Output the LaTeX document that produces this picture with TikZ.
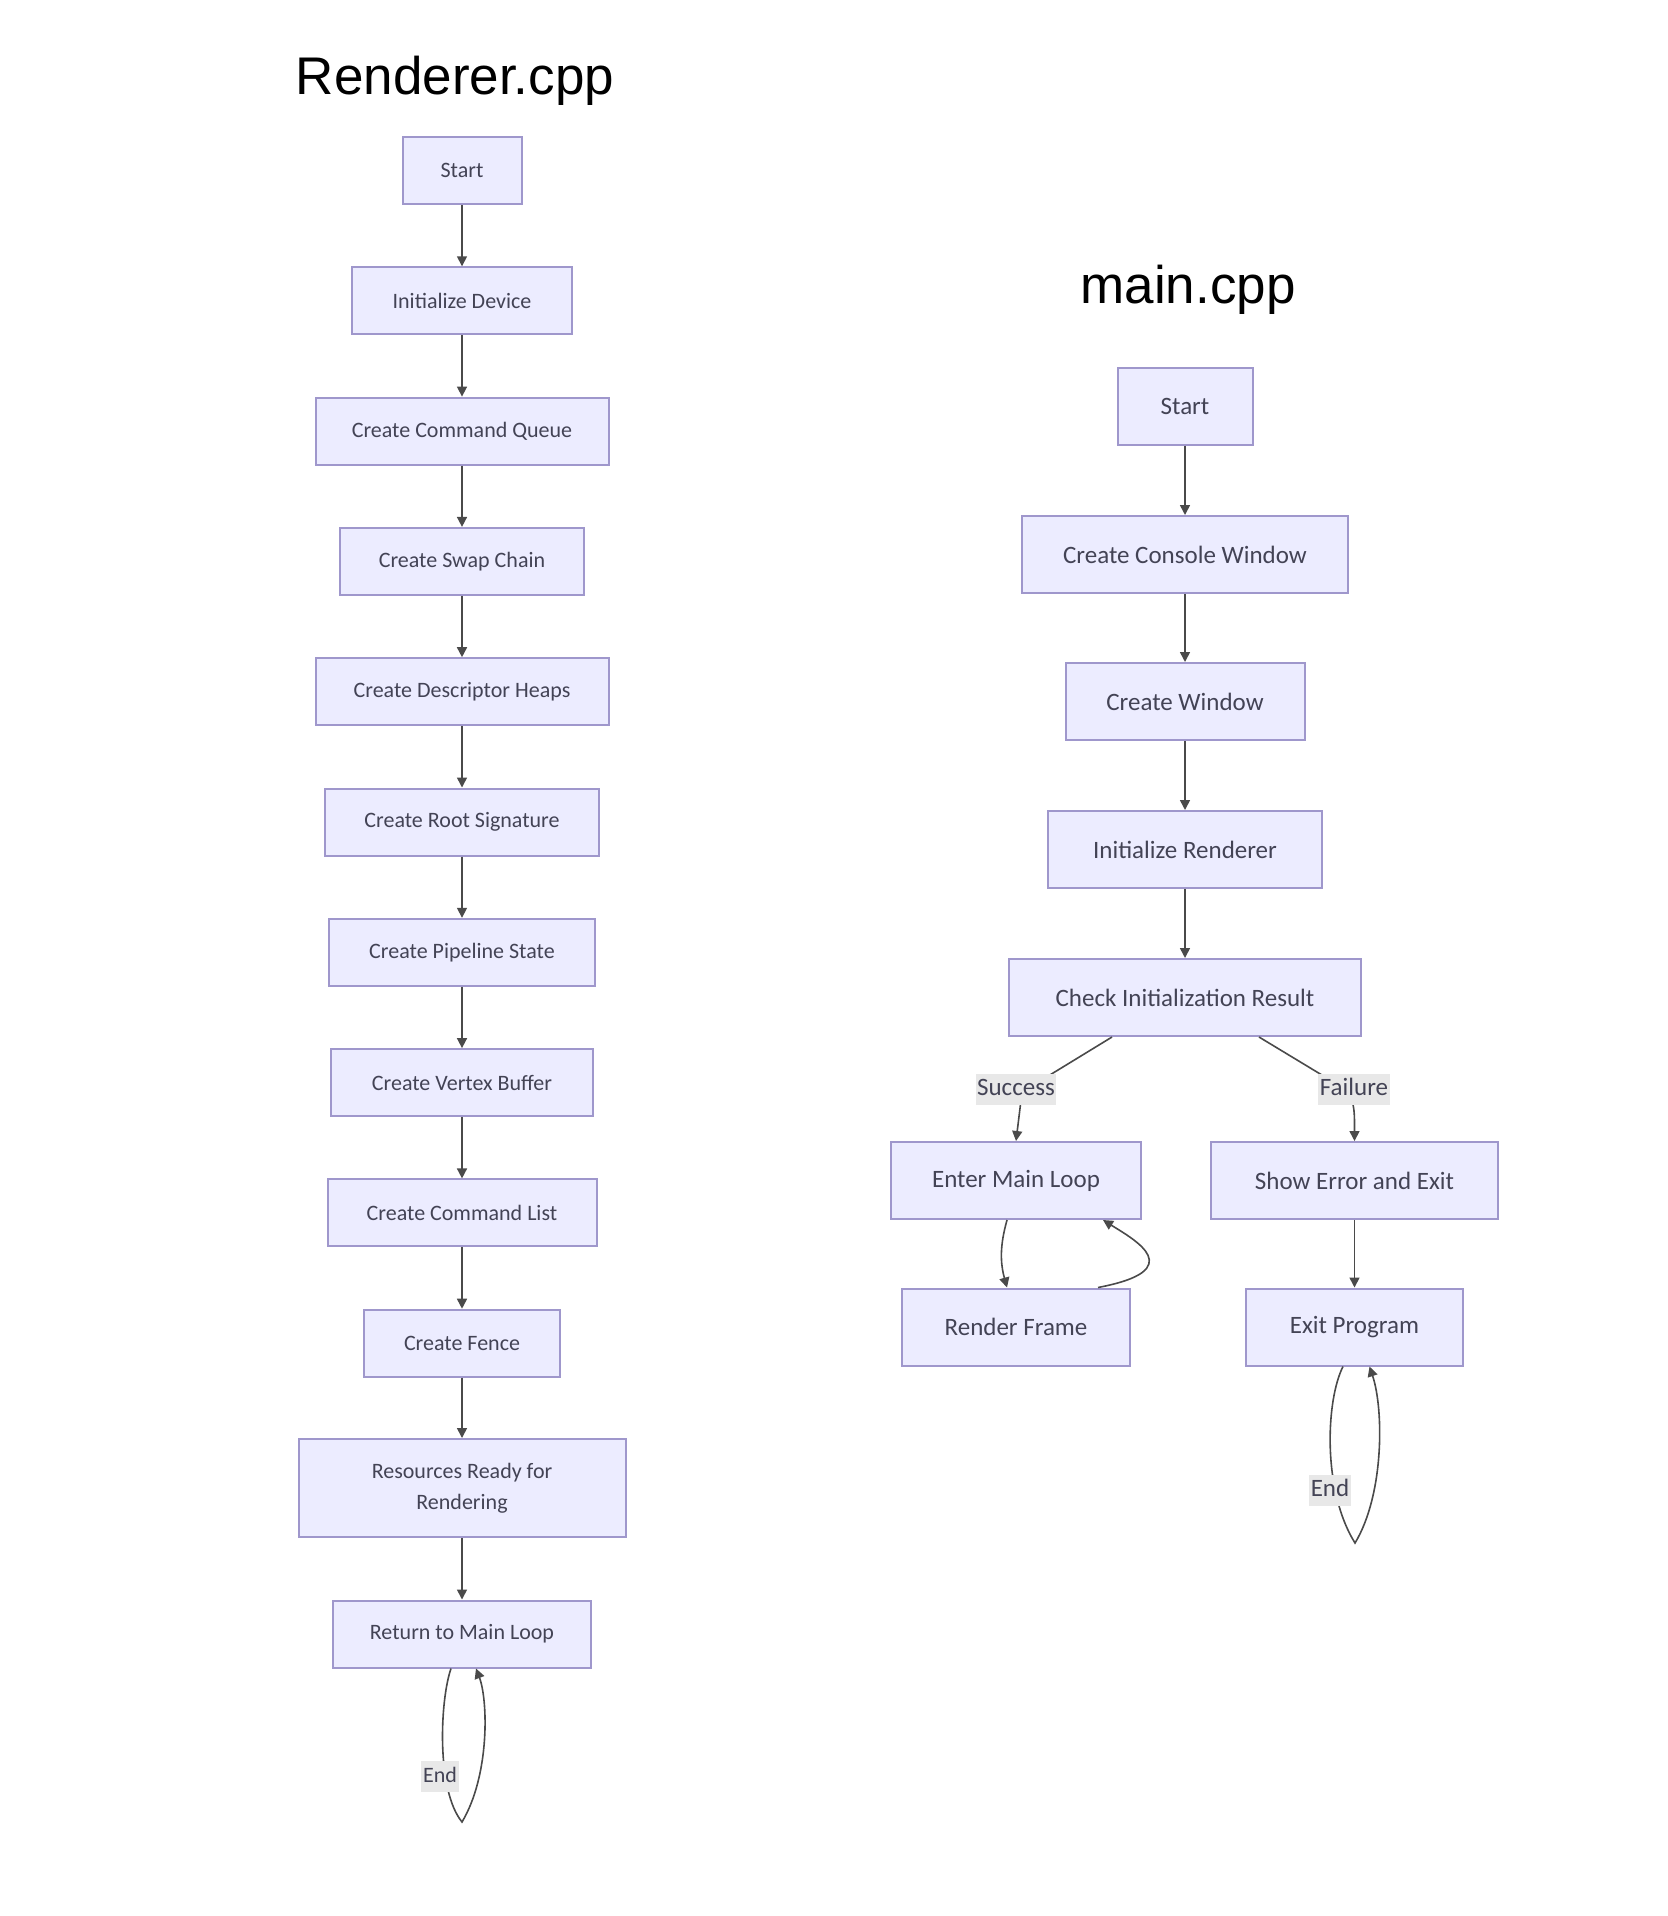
\documentclass[tikz,border=0pt]{standalone}
\usepackage{fontspec}
\setmainfont{Carlito}
\newfontfamily\titlefont{Liberation Sans}
\usetikzlibrary{arrows.meta,calc}
\definecolor{boxfill}{HTML}{ECECFF}
\definecolor{boxline}{HTML}{9F97CC}
\definecolor{txt}{HTML}{434355}
\definecolor{edge}{HTML}{4A4A4A}
\definecolor{lblbg}{HTML}{E8E8E8}
\begin{document}
\begin{tikzpicture}[x=0.5pt,y=-0.5pt,
 box/.style={draw=boxline, fill=boxfill, line width=1pt, text=txt, inner sep=0pt, align=center},
 lfont/.style={font=\fontsize{11}{15.25}\selectfont},
 rfont/.style={font=\fontsize{12.5}{15}\selectfont},
 lbox/.style={box, lfont, minimum height=33.5pt},
 rbox/.style={box, rfont, minimum height=38.5pt},
 arr/.style={draw=edge, line width=0.8pt, -{Triangle[length=5pt,width=5pt]}},
 lbl/.style={fill=lblbg, text=txt, inner xsep=0.8pt, inner ysep=2.5pt, text height=8.5pt, text depth=2pt},
 title/.style={font=\titlefont\fontsize{26.5}{30}\selectfont, text=black, anchor=base}]
\useasboundingbox (0,0) rectangle (1668,1916);
\fill[white] (0,0) rectangle (1668,1916);

% titles
\node[title] (t1) at (455,95) {Renderer.cpp};
\node[title] (t2) at (1188,303) {main.cpp};

% left column
\node[lbox, minimum width=59.5pt]  (l1)  at (462,170.5) {Start};
\node[lbox, minimum width=110pt]   (l2)  at (462,300.8) {Initialize Device};
\node[lbox, minimum width=146.5pt] (l3)  at (462,431.1) {Create Command Queue};
\node[lbox, minimum width=122pt]   (l4)  at (462,561.4) {Create Swap Chain};
\node[lbox, minimum width=146.5pt] (l5)  at (462,691.7) {Create Descriptor Heaps};
\node[lbox, minimum width=137pt]   (l6)  at (462,822)   {Create Root Signature};
\node[lbox, minimum width=133pt]   (l7)  at (462,952.3) {Create Pipeline State};
\node[lbox, minimum width=131pt]   (l8)  at (462,1082.6) {Create Vertex Buffer};
\node[lbox, minimum width=134.5pt] (l9)  at (462,1212.9) {Create Command List};
\node[lbox, minimum width=98pt]    (l10) at (462,1343.2) {Create Fence};
\node[lbox, minimum width=163.5pt, minimum height=49pt] (l11) at (462,1488) {Resources Ready for\\Rendering};
\node[lbox, minimum width=129pt]   (l12) at (462,1634) {Return to Main Loop};

\foreach \a/\b in {l1/l2,l2/l3,l3/l4,l4/l5,l5/l6,l6/l7,l7/l8,l8/l9,l9/l10,l10/l11,l11/l12}
  \draw[arr] (\a) -- (\b);

\coordinate (endL) at (462,1822);
\draw[arr] ($(l12.south)+(-11,0)$) .. controls (440,1700) and (436,1790) .. (endL)
  .. controls (490,1775) and (488,1700) .. ($(l12.south)+(14,0)$);
\node[lbl, lfont] (endLl) at (440,1776) {End};

% right column
\node[rbox, minimum width=67.5pt]  (r1) at (1185,406)   {Start};
\node[rbox, minimum width=163pt]   (r2) at (1185,554.5) {Create Console Window};
\node[rbox, minimum width=119.5pt] (r3) at (1185,701.5) {Create Window};
\node[rbox, minimum width=137pt]   (r4) at (1185,849.5) {Initialize Renderer};
\node[rbox, minimum width=176pt]   (r5) at (1185,997.5) {Check Initialization Result};
\node[rbox, minimum width=125pt]   (r6) at (1016,1180.5) {Enter Main Loop};
\node[rbox, minimum width=143.5pt] (r7) at (1354.5,1180.5) {Show Error and Exit};
\node[rbox, minimum width=114pt]   (r8) at (1016,1327) {Render Frame};
\node[rbox, minimum width=108.5pt] (r9) at (1354.5,1327) {Exit Program};

\draw[arr] (r1) -- (r2);
\draw[arr] (r2) -- (r3);
\draw[arr] (r3) -- (r4);
\draw[arr] (r4) -- (r5);
\draw[arr] (r7) -- (r9);

\coordinate (bs) at (1022,1092);
\coordinate (bf) at (1350,1092);
\draw[arr] ($(r5.south)+(-73,0)$) -- (bs) -- (r6.north);
\draw[arr] ($(r5.south)+(74,0)$) -- (bf) .. controls (1354.5,1110) .. (r7.north);
\node[lbl, rfont] (succ) at (1016,1089) {Success};
\node[lbl, rfont] (fail) at (1354,1089) {Failure};

\draw[arr] ($(r6.south)+(-9,0)$) .. controls (1000,1245) and (1000,1262) .. ($(r8.north)+(-9,0)$);
\draw[arr] ($(r8.north)+(82,0)$) .. controls (1190,1270) and (1135,1240) .. ($(r6.south)+(87,0)$);

\coordinate (endR) at (1355,1543);
\draw[arr] ($(r9.south)+(-11.5,0)$) .. controls (1326,1400) and (1322,1490) .. (endR)
  .. controls (1384,1495) and (1384,1410) .. ($(r9.south)+(15,0)$);
\node[lbl, rfont] (endRl) at (1330,1490) {End};
\end{tikzpicture}
\end{document}
